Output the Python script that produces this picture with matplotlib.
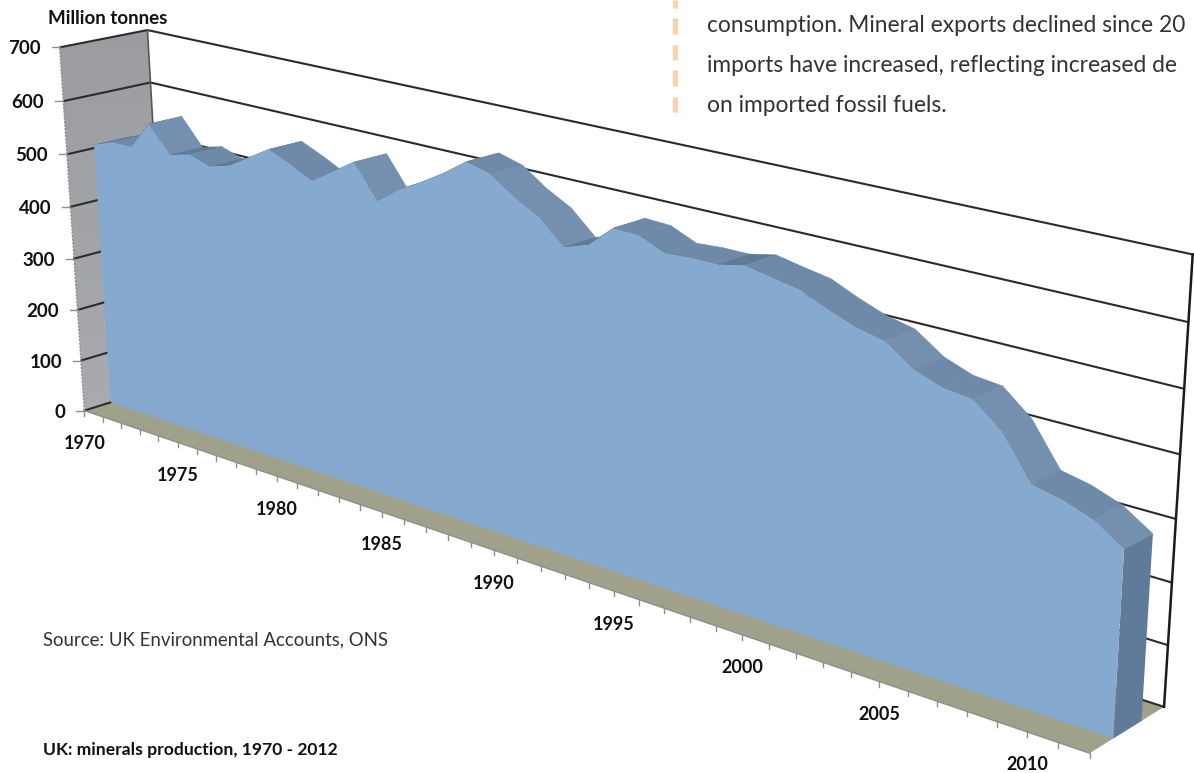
import numpy as np
import matplotlib
matplotlib.use('Agg')
import matplotlib.pyplot as plt
from matplotlib.patches import Polygon

years = list(range(1970, 2013))
production = [506, 520, 520, 572, 523, 533, 520, 531, 555, 579, 561,
              541, 567, 593, 534, 564, 586, 611, 640, 628, 598, 575,
              535, 549, 587, 585, 566, 569, 569, 578, 569, 561, 541,
              524, 514, 482, 465, 460, 421, 354, 344, 327, 296]
value_ticks = [0, 100, 200, 300, 400, 500, 600, 700]
year_labels = [1970, 1975, 1980, 1985, 1990, 1995, 2000, 2005, 2010]
note_lines = ['consumption. Mineral exports declined since 20',
              'imports have increased, reflecting increased de',
              'on imported fossil fuels.']

VMAX = 700
AREA_FRONT = 0.31
AREA_BACK = 0.69
BOLD = 'Lato'

# calibration of the 3D box: (year frac, value frac, depth) -> picture position
calib = [
    (0, 0, 0, 85, 409), (1, 0, 0, 1090, 755), (0, 0, 1, 169, 389), (1, 0, 1, 1165, 707),
    (0, 1, 0, 60, 48), (0, 1, 1, 147, 29), (1, 1, 1, 1193, 255),
    (0, 6/7, 1, 150, 81), (1, 6/7, 1, 1189, 323), (0, 6/7, 0, 63, 103), (0, 5/7, 0, 68, 155),
    (1, 1/7, 1, 1167, 643), (1, 2/7, 1, 1171, 580), (1, 3/7, 1, 1176, 517), (1, 4/7, 1, 1179, 455), (1, 5/7, 1, 1185, 390),
    (0, 1/7, 0, 81, 359), (0, 2/7, 0, 77, 309), (0, 3/7, 0, 73, 258), (0, 4/7, 0, 71, 207),
    (10/42, 0, 0, 276, 477), (5/42, 0, 0, 177.7, 441), (40/42, 0, 0, 1027, 733),
    (1, 0, 0.31, 1113, 738), (1, 0, 0.69, 1142, 722), (0, 0, 0.31, 110, 402),
]

def fit(pts):
    A, b = [], []
    for u, v, w, x, y in pts:
        A.append([u, v, w, 1, 0, 0, 0, 0, -x*u, -x*v, -x*w]); b.append(x)
        A.append([0, 0, 0, 0, u, v, w, 1, -y*u, -y*v, -y*w]); b.append(y)
    s = np.linalg.lstsq(np.array(A), np.array(b), rcond=None)[0]
    return np.append(s, 1).reshape(3, 4)

P = fit(calib)

def project(year, value, depth):
    u = (year - years[0]) / (years[-1] - years[0])
    q = P @ np.array([u, value / VMAX, depth, 1.0])
    return q[0] / q[2], q[1] / q[2]

fig = plt.figure(figsize=(11.94, 7.73), dpi=100)
ax = fig.add_axes([0, 0, 1, 1])
ax.set_xlim(0, 1194)
ax.set_ylim(773, 0)
ax.axis('off')

y0, y1 = years[0], years[-1]

# left wall, slightly lighter towards the floor
wall = Polygon([project(y0, 0, 0), project(y0, VMAX, 0), project(y0, VMAX, 1), project(y0, 0, 1)],
               closed=True, transform=ax.transData, fc='none', ec='none')
ax.add_patch(wall)
shade = ax.imshow(np.linspace(0, 1, 64).reshape(-1, 1), extent=(50, 180, 420, 20), aspect='auto',
                  cmap=matplotlib.colors.LinearSegmentedColormap.from_list('w', ['#9a9c9e', '#a9abb1']), zorder=1)
shade.set_clip_path(wall)
ax.set_xlim(0, 1194)
ax.set_ylim(773, 0)

# floor
ax.add_patch(Polygon([project(y0, 0, 0), project(y1, 0, 0), project(y1, 0, 1), project(y0, 0, 1)],
                     fc='#a0a18b', ec='none', zorder=1))

# gridlines on both walls
for v in value_ticks:
    a, b, c = project(y0, v, 0), project(y0, v, 1), project(y1, v, 1)
    ax.plot([a[0], b[0], c[0]], [a[1], b[1], c[1]], color='#2b2b2b', lw=1.5, zorder=2, solid_capstyle='round')
    ax.plot([a[0] - 8, a[0]], [a[1], a[1]], color='#8f8f8f', lw=1, zorder=2)
    ax.text(a[0] - 19, a[1] + 1.5, str(v), ha='right', va='center', family=BOLD, weight='bold', fontsize=13.5, color='#111111')

# box edges
a, b = project(y0, 0, 1), project(y0, VMAX, 1)
ax.plot([a[0], b[0]], [a[1], b[1]], color='#55585a', lw=1.2, zorder=2)
a, b = project(y1, 0, 1), project(y1, VMAX, 1)
ax.plot([a[0], b[0]], [a[1], b[1]], color='#1a1a1a', lw=1.8, zorder=2)
a, b = project(y0, 0, 0), project(y0, VMAX, 0)
ax.plot([a[0], b[0]], [a[1], b[1]], color='#8c8f90', lw=1, ls=(0, (1.5, 1)), zorder=2)

# floor front edge and year ticks
a, b = project(y0, 0, 0), project(y1, 0, 0)
ax.plot([a[0], b[0]], [a[1], b[1]], color='#8f8f8f', lw=1, zorder=3)
for yr in years:
    t = project(yr, 0, 0)
    ax.plot([t[0], t[0]], [t[1], t[1] + 5], color='#8f8f8f', lw=1, zorder=3)
for yr in year_labels:
    t = project(yr, 0, 0)
    ax.text(t[0], t[1] + 33, str(yr), ha='center', va='center', family=BOLD, weight='bold', fontsize=13, color='#111111')

# top surface of the area, far end first
for i in range(len(years) - 1):
    y_a, y_b = years[i], years[i + 1]
    v_a, v_b = production[i], production[i + 1]
    drop = v_a - v_b
    colour = '#7590ae' if drop > 20 else ('#6f8aa9' if drop > -6 else '#5f7a97')
    quad = [project(y_a, v_a, AREA_FRONT), project(y_b, v_b, AREA_FRONT),
            project(y_b, v_b, AREA_BACK), project(y_a, v_a, AREA_BACK)]
    ax.add_patch(Polygon(quad, fc=colour, ec=colour, lw=0.4, zorder=4))

# right end of the area
end = [project(y1, 0, AREA_FRONT), project(y1, production[-1], AREA_FRONT),
       project(y1, production[-1], AREA_BACK), project(y1, 0, AREA_BACK)]
ax.add_patch(Polygon(end, fc='#5f7b99', ec='none', zorder=5))

# front face
front = [project(yr, v, AREA_FRONT) for yr, v in zip(years, production)]
front = [project(y0, 0, AREA_FRONT)] + front + [project(y1, 0, AREA_FRONT)]
ax.add_patch(Polygon(front, fc='#86a9cf', ec='none', zorder=6))

# text round the chart
ax.text(48, 19, 'Million tonnes', ha='left', va='center', family=BOLD, weight='bold', fontsize=13.5, color='#111111')
ax.text(43, 640, 'Source: UK Environmental Accounts, ONS', ha='left', va='center', family='Lato', fontsize=13.4, color='#333333')
ax.text(43, 750, 'UK: minerals production, 1970 - 2012', ha='left', va='center', family=BOLD, weight='bold', fontsize=12.6, color='#111111')
for line, y in zip(note_lines, [26, 66, 106]):
    ax.text(707, y, line, ha='left', va='center', family='Lato', fontsize=16.4, color='#333333')

# orange dashes beside the note
for top, bottom in [(0, 8), (18, 34), (45, 60), (70, 86), (97, 112)]:
    ax.plot([674.5, 674.5], [top, bottom], color='#f9d3ae', lw=3.8, solid_capstyle='butt', zorder=2)

fig.savefig('out.png', dpi=100)
